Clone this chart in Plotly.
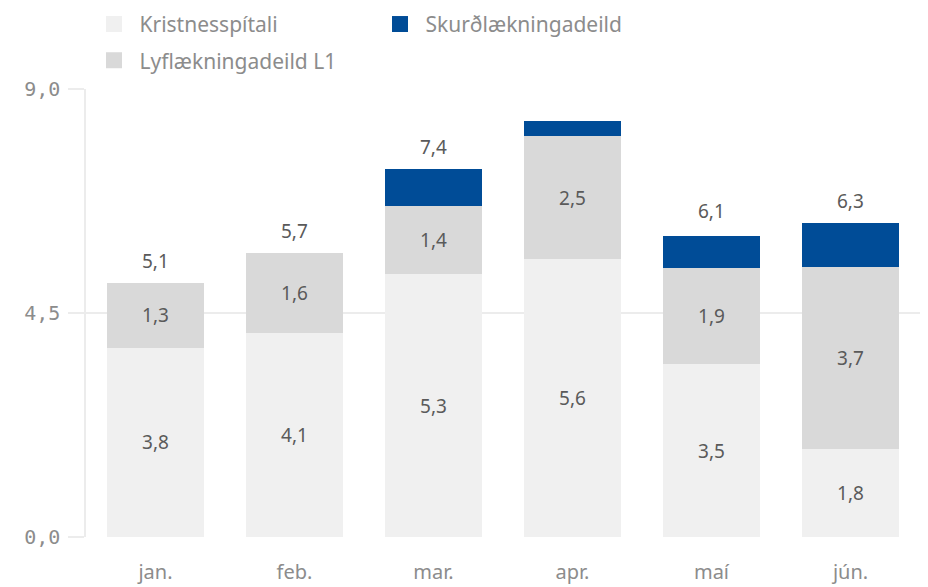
import plotly.graph_objects as go

months = ["jan.", "feb.", "mar.", "apr.", "maí", "jún."]
kristnes = [3.8, 4.1, 5.28, 5.58, 3.47, 1.77]
lyf = [1.3, 1.6, 1.37, 2.47, 1.93, 3.66]
skurd = [0.0, 0.0, 0.74, 0.30, 0.64, 0.87]
totals = [5.1, 5.7, 7.4, 8.4, 6.1, 6.3]
total_labels = ["5,1", "5,7", "7,4", "", "6,1", "6,3"]

C_LIGHT = "#f0f0f0"
C_MID = "#d9d9d9"
C_BLUE = "#004c97"
SANS = "Noto Sans"
MONO = "DejaVu Sans Mono"
TXT = "#5a5a5a"
AX = "#8c8c8c"

fig = go.Figure()
fig.add_bar(x=months, y=kristnes, marker_color=C_LIGHT, marker_line_width=0,
            texttemplate="%{y:.1f}", textposition="inside", insidetextanchor="middle",
            textfont=dict(family=SANS, size=19, color=TXT), showlegend=False,
            name="Kristnesspítali")
fig.add_bar(x=months, y=lyf, marker_color=C_MID, marker_line_width=0,
            texttemplate="%{y:.1f}", textposition="inside", insidetextanchor="middle",
            textfont=dict(family=SANS, size=19, color=TXT), showlegend=False,
            name="Lyflækningadeild L1")
fig.add_bar(x=months, y=skurd, marker_color=C_BLUE, marker_line_width=0,
            showlegend=False, name="Skurðlækningadeild")

for m, t, lab in zip(months, totals, total_labels):
    if lab:
        fig.add_annotation(x=m, y=t, text=lab, showarrow=False, yanchor="bottom",
                           yshift=7, font=dict(family=SANS, size=19, color=TXT))

# legend entries
fig.add_scatter(x=[None], y=[None], mode="markers", name="\u00a0Kristnesspítali",
                marker=dict(symbol="square", size=20, color=C_LIGHT), legend="legend")
fig.add_scatter(x=[None], y=[None], mode="markers", name="\u00a0Skurðlækningadeild",
                marker=dict(symbol="square", size=20, color=C_BLUE), legend="legend")
fig.add_scatter(x=[None], y=[None], mode="markers", name="\u00a0Lyflækningadeild L1",
                marker=dict(symbol="square", size=20, color=C_MID), legend="legend2")

legend_common = dict(orientation="h", xref="paper", yref="paper",
                     xanchor="left", yanchor="top", bgcolor="rgba(0,0,0,0)",
                     traceorder="normal",
                     font=dict(family=SANS, size=21, color=AX),
                     entrywidth=241, entrywidthmode="pixels", itemclick=False)

fig.update_layout(
    width=920, height=579,
    margin=dict(l=78, r=8, t=81, b=50, autoexpand=False),
    paper_bgcolor="white", plot_bgcolor="white",
    barmode="stack", bargap=0.3,
    separators=",.",
    legend=dict(x=0.0096, y=1.190, **legend_common),
    legend2=dict(x=0.0096, y=1.109, **legend_common),
    xaxis=dict(type="category", showgrid=False, showline=False,
               ticks="outside", ticklen=17, tickcolor="rgba(0,0,0,0)",
               tickfont=dict(family=SANS, size=20, color=AX),
               fixedrange=True, automargin=False),
    yaxis=dict(range=[0, 9], tickvals=[0, 4.5, 9], tickformat=".1f",
               showgrid=True, gridcolor="#ececec", gridwidth=1.5,
               zeroline=False, showline=True, linecolor="#ececec", linewidth=1.5,
               ticks="outside", ticklen=16, tickcolor="#ececec", tickwidth=1.5,
               ticklabelstandoff=4,
               tickfont=dict(family=MONO, size=20, color=AX),
               fixedrange=True, automargin=False),
)

fig.write_html("out.html")
